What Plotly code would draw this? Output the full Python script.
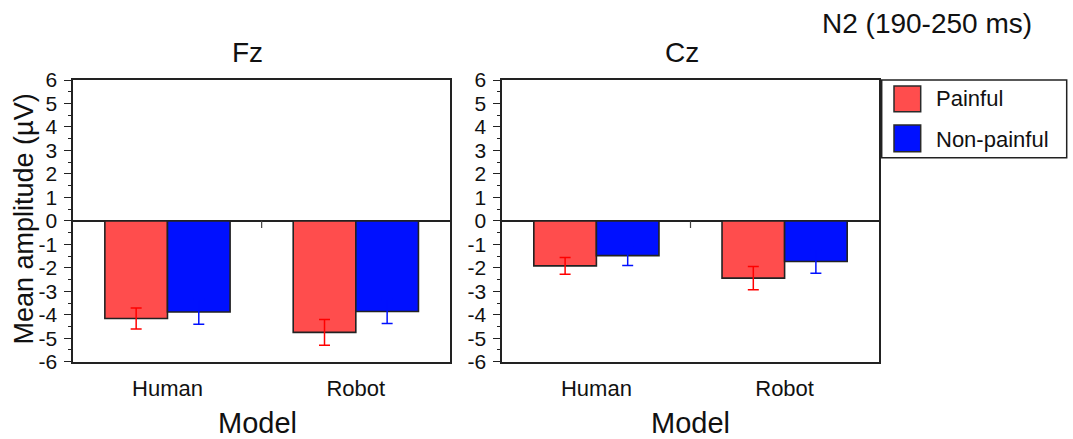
import plotly.graph_objects as go

W, H = 1073, 439

categories = ["Human", "Robot"]
series_names = ["Painful", "Non-painful"]
series_colors = ["#ff4d4d", "#0010ff"]
error_colors = ["#ff0000", "#0010ff"]

fz_painful = [-4.16, -4.75]
fz_painful_err = [0.45, 0.55]
fz_nonpainful = [-3.88, -3.86]
fz_nonpainful_err = [0.53, 0.51]

cz_painful = [-1.92, -2.44]
cz_painful_err = [0.36, 0.50]
cz_nonpainful = [-1.48, -1.73]
cz_nonpainful_err = [0.42, 0.50]

y_tick_values = [6, 5, 4, 3, 2, 1, 0, -1, -2, -3, -4, -5, -6]
y_tick_labels = ["6", "5", "4", "3", "2", "1", "0", "-1", "-2", "-3", "-4", "-5", "-6"]

panel_titles = ["Fz", "Cz"]
x_title = "Model"
y_title = "Mean amplitude (µV)"
main_title = "N2 (190-250 ms)"

FONT = "Liberation Sans, Arial, sans-serif"


def px(x):
    return x / W


def py(y):
    return 1 - y / H


fig = go.Figure()

panels = [
    ("x", "y", [fz_painful, fz_nonpainful], [fz_painful_err, fz_nonpainful_err]),
    ("x2", "y2", [cz_painful, cz_nonpainful], [cz_painful_err, cz_nonpainful_err]),
]
for xa, ya, vals, errs in panels:
    for i in range(2):
        fig.add_trace(go.Bar(
            x=categories, y=vals[i], name=series_names[i],
            xaxis=xa, yaxis=ya, showlegend=False,
            marker=dict(color=series_colors[i], line=dict(color="#222222", width=1.6)),
            error_y=dict(type="data", array=errs[i], visible=True,
                         color=error_colors[i], thickness=1.5, width=5.5),
        ))

plot_top, plot_bot = 80, 361.7
domains_x = [(73.3, 450.0), (502.3, 878.7)]

axis_common_x = dict(
    type="category", range=[-0.5, 1.5], showline=True, mirror=True,
    linecolor="#222222", linewidth=1.6, ticks="", showgrid=False, zeroline=False,
    tickfont=dict(family=FONT, size=22, color="#111111"), ticklabelstandoff=6,
    automargin=False,
)
axis_common_y = dict(
    range=[-6, 6], showline=True, mirror=True, linecolor="#222222", linewidth=1.6,
    tickvals=y_tick_values, ticktext=y_tick_labels,
    ticks="outside", ticklen=8, tickwidth=1.2, tickcolor="#222222",
    minor=dict(dtick=0.5, ticks="outside", ticklen=4, tickwidth=1.2, tickcolor="#222222"),
    showgrid=False, zeroline=True, zerolinecolor="#222222", zerolinewidth=1.6,
    tickfont=dict(family=FONT, size=21, color="#111111"), ticklabelstandoff=2,
    automargin=False,
)

fig.update_layout(
    width=W, height=H, autosize=False,
    margin=dict(l=0, r=0, t=0, b=0, pad=0, autoexpand=False),
    paper_bgcolor="white", plot_bgcolor="white",
    barmode="group", bargap=0.335, bargroupgap=0,
    showlegend=False,
    xaxis=dict(domain=[px(domains_x[0][0]), px(domains_x[0][1])], anchor="y", **axis_common_x),
    xaxis2=dict(domain=[px(domains_x[1][0]), px(domains_x[1][1])], anchor="y2", **axis_common_x),
    yaxis=dict(domain=[py(plot_bot), py(plot_top)], anchor="x", **axis_common_y),
    yaxis2=dict(domain=[py(plot_bot), py(plot_top)], anchor="x2", **axis_common_y),
)

# small tick at the category boundary on the zero line
for xr, yr in [("x", "y"), ("x2", "y2")]:
    fig.add_shape(type="line", xref=xr, yref=yr, x0=0.5, x1=0.5, y0=0, y1=-0.3,
                  line=dict(color="#444444", width=1.2))

anns = [
    (panel_titles[0], 247, 52, 28, 0),
    (panel_titles[1], 681.5, 53, 28, 0),
    (x_title, 257, 423, 29, 0),
    (x_title, 690, 423, 29, 0),
    (main_title, 926.5, 24, 28, 0),
    (y_title, 23.5, 219, 27, -90),
]
for text, x, y, size, ang in anns:
    fig.add_annotation(text=text, x=px(x), y=py(y), xref="paper", yref="paper",
                       xanchor="center", yanchor="middle", showarrow=False, textangle=ang,
                       font=dict(family=FONT, size=size, color="#111111"))

# legend drawn manually (large swatches)
fig.add_shape(type="rect", xref="paper", yref="paper",
              x0=px(881.7), x1=px(1066.7), y0=py(157.7), y1=py(80),
              line=dict(color="#222222", width=1.5), fillcolor="white")
swatch_rows = [(86, 111.7, 98.7), (125, 151.7, 139)]
for i, (t, b, c) in enumerate(swatch_rows):
    fig.add_shape(type="rect", xref="paper", yref="paper",
                  x0=px(894), x1=px(920.7), y0=py(b), y1=py(t),
                  line=dict(color="#2a2a2a", width=1.5), fillcolor=series_colors[i])
    fig.add_annotation(text=series_names[i], x=px(934), y=py(c), xref="paper", yref="paper",
                       xanchor="left", yanchor="middle", showarrow=False,
                       font=dict(family=FONT, size=22, color="#111111"))

fig.write_html(
    "out.html",
    config={"displayModeBar": False},
    post_script="document.body.style.margin='0';document.body.style.overflow='hidden';",
)
